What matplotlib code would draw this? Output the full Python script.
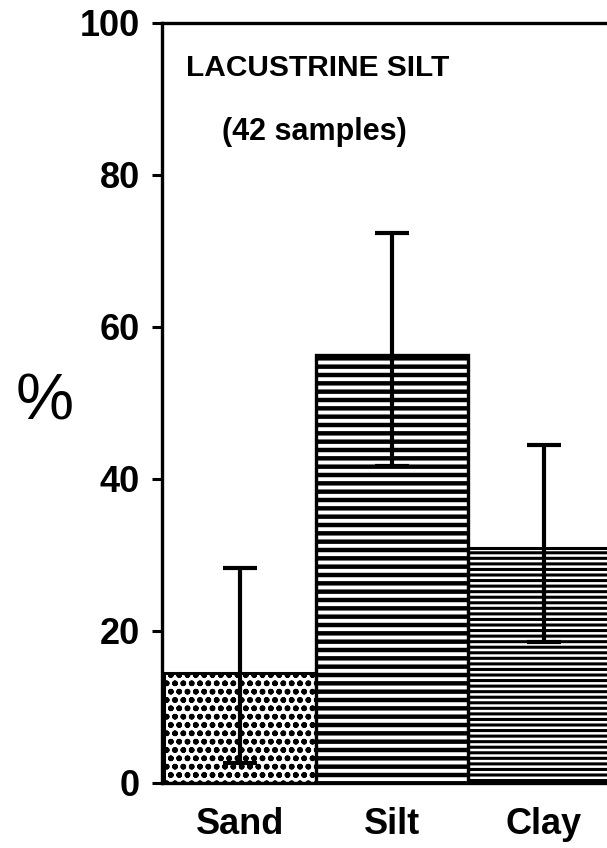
#IMPORTS

import numpy as np
import matplotlib
matplotlib.use('Agg')
import matplotlib.pyplot as plt


#DATA

categories = ['Sand', 'Silt', 'Clay']
mean_pct = [14.5, 56.3, 30.9]
err_low = [11.9, 14.6, 12.3]
err_high = [13.8, 16.1, 13.6]
y_ticks = [0, 20, 40, 60, 80, 100]
title_text = 'LACUSTRINE SILT'
subtitle_text = '(42 samples)'


#HELPER FUNCTIONS

def set_hatch_lw(bars, lw):
    for p in bars:
        if hasattr(p, 'set_hatch_linewidth'):
            p.set_hatch_linewidth(lw)


#PLOTTING

plt.rcParams['font.family'] = ['Liberation Sans', 'DejaVu Sans']

fig = plt.figure(figsize=(6.07, 8.48), dpi=100)
#axes runs off the right edge of the page, like the cropped original
ax = fig.add_axes([162 / 607, 65 / 848, 445 / 607, 760 / 848])

x = np.arange(len(categories))

#sand: dotted fill
with plt.rc_context({'hatch.linewidth': 1.7}):
    sand = ax.bar(x[0], mean_pct[0], width=1.0, facecolor='white',
                  edgecolor='black', hatch='oo', linewidth=2.2, zorder=2)
set_hatch_lw(sand, 1.7)

#silt: white dashes on black
with plt.rc_context({'hatch.linewidth': 2.8}):
    silt_bg = ax.bar(x[1], mean_pct[1], width=1.0, facecolor='black',
                     edgecolor='white', hatch='--', linewidth=0, zorder=2)
set_hatch_lw(silt_bg, 2.8)
silt_fg = ax.bar(x[1], mean_pct[1], width=1.0, facecolor='none',
                 edgecolor='black', linewidth=2.4, zorder=3)

#clay: dense horizontal lines
with plt.rc_context({'hatch.linewidth': 2.2}):
    clay = ax.bar(x[2], mean_pct[2], width=1.0, facecolor='white',
                  edgecolor='black', hatch='---', linewidth=2.2, zorder=2)
set_hatch_lw(clay, 2.2)

#error bars
ax.errorbar(x, mean_pct, yerr=[err_low, err_high], fmt='none', ecolor='black',
            elinewidth=3, capsize=12, capthick=3, zorder=4)

#axes styling
ax.set_xlim(-0.513, 2.415)
ax.set_ylim(0, 100)
ax.set_yticks(y_ticks)
ax.set_yticklabels([str(t) for t in y_ticks], fontsize=26, fontweight='bold')
ax.tick_params(axis='y', direction='out', length=7, width=2.2, pad=9)
ax.set_xticks(x)
ax.set_xticklabels(categories, fontsize=26, fontweight='bold')
ax.tick_params(axis='x', length=0, pad=17)

ax.spines['right'].set_visible(False)
for s in ['left', 'top', 'bottom']:
    ax.spines[s].set_linewidth(2.4)

#labels
fig.text(45 / 607, 1 - 402 / 848, '%', fontsize=47, ha='center', va='center')
fig.text(318 / 607, 1 - 68 / 848, title_text, fontsize=21.5, fontweight='bold',
         ha='center', va='center')
fig.text(314 / 607, 1 - 132 / 848, subtitle_text, fontsize=22, fontweight='bold',
         ha='center', va='center')

plt.savefig('out.png', dpi=100)
plt.close()
